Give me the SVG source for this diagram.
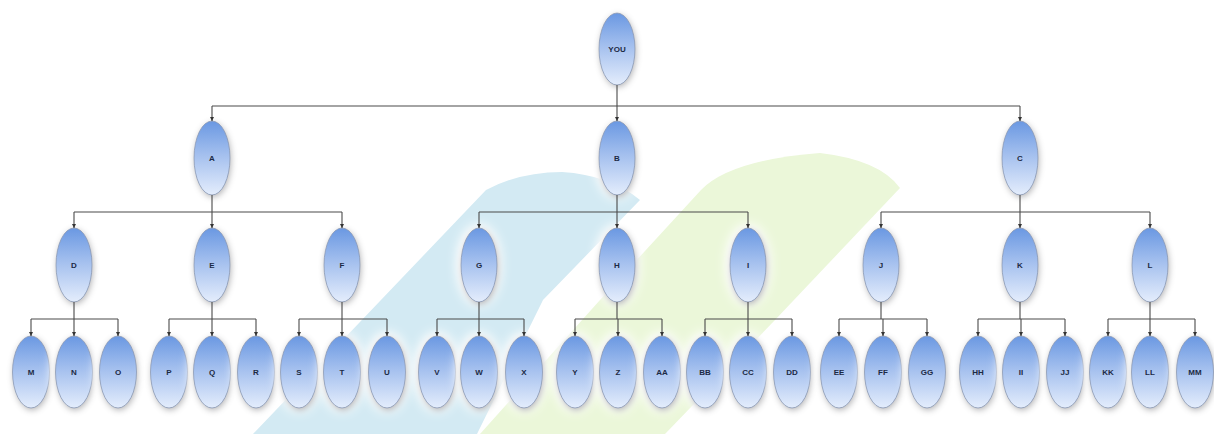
<svg xmlns="http://www.w3.org/2000/svg" width="1214" height="434" viewBox="0 0 1214 434">
<style>
  .nd ellipse { fill: url(#ng); stroke: #8797b4; stroke-width: 0.8; filter: url(#sh); }
  .nd text { font-family: "Liberation Sans", Arial, sans-serif; font-weight: bold; font-size: 8px; fill: #1c2a44; text-anchor: middle; dominant-baseline: central; }
  .cn path { fill: none; stroke: #4a4a4a; stroke-width: 1.1; }
  .cn .ar { marker-end: url(#ah); }
</style>
<defs>
  <linearGradient id="ng" x1="0" y1="0" x2="0" y2="1">
    <stop offset="0" stop-color="#6a98e2"/>
    <stop offset="0.45" stop-color="#a3bfee"/>
    <stop offset="1" stop-color="#e4edfc"/>
  </linearGradient>
  <filter id="sh" x="-80%" y="-40%" width="260%" height="180%">
    <feGaussianBlur in="SourceAlpha" stdDeviation="7" result="b1"/>
    <feComponentTransfer in="b1" result="b1a"><feFuncA type="linear" slope="2.2"/></feComponentTransfer>
    <feFlood flood-color="#ffffff"/>
    <feComposite in2="b1a" operator="in" result="glow"/>
    <feGaussianBlur in="SourceAlpha" stdDeviation="3" result="b2"/>
    <feOffset in="b2" dx="1" dy="1.5" result="o"/>
    <feFlood flood-color="#4a4a55" flood-opacity="0.6"/>
    <feComposite in2="o" operator="in" result="shadow"/>
    <feMerge><feMergeNode in="glow"/><feMergeNode in="shadow"/><feMergeNode in="SourceGraphic"/></feMerge>
  </filter>
  <marker id="ah" viewBox="0 0 6 6" refX="6" refY="3" markerWidth="4" markerHeight="4" orient="auto">
    <path d="M0,0 L6,3 L0,6 z" fill="#333"/>
  </marker>
</defs>
<rect width="1214" height="434" fill="#ffffff"/>
<g id="watermark">
  <path d="M253,434 L486,190 Q520,172 562,172 Q610,175 640,200 L543,300 L477,434 Z" fill="#d3eaf3"/>
  <path d="M480,434 L600,300 L701,190 Q730,160 820,153 Q880,160 900,188 L775,320 L665,434 Z" fill="#ebf7d9"/>
</g>
<g id="nodes">
  <g id="n-YOU" class="nd"><ellipse cx="617" cy="49" rx="18" ry="36"/><text x="617" y="49">YOU</text></g>
  <g id="n-A" class="nd"><ellipse cx="212" cy="158" rx="18" ry="37"/><text x="212" y="158">A</text></g>
  <g id="n-B" class="nd"><ellipse cx="617" cy="158" rx="18" ry="37"/><text x="617" y="158">B</text></g>
  <g id="n-C" class="nd"><ellipse cx="1020" cy="158" rx="18" ry="37"/><text x="1020" y="158">C</text></g>
  <g id="n-D" class="nd"><ellipse cx="74" cy="265" rx="18" ry="37"/><text x="74" y="265">D</text></g>
  <g id="n-E" class="nd"><ellipse cx="212" cy="265" rx="18" ry="37"/><text x="212" y="265">E</text></g>
  <g id="n-F" class="nd"><ellipse cx="342" cy="265" rx="18" ry="37"/><text x="342" y="265">F</text></g>
  <g id="n-G" class="nd"><ellipse cx="479" cy="265" rx="18" ry="37"/><text x="479" y="265">G</text></g>
  <g id="n-H" class="nd"><ellipse cx="617" cy="265" rx="18" ry="37"/><text x="617" y="265">H</text></g>
  <g id="n-I" class="nd"><ellipse cx="748" cy="265" rx="18" ry="37"/><text x="748" y="265">I</text></g>
  <g id="n-J" class="nd"><ellipse cx="881" cy="265" rx="18" ry="37"/><text x="881" y="265">J</text></g>
  <g id="n-K" class="nd"><ellipse cx="1020" cy="265" rx="18" ry="37"/><text x="1020" y="265">K</text></g>
  <g id="n-L" class="nd"><ellipse cx="1150" cy="265" rx="18" ry="37"/><text x="1150" y="265">L</text></g>
  <g id="n-M" class="nd"><ellipse cx="31" cy="372" rx="18.5" ry="36"/><text x="31" y="372">M</text></g>
  <g id="n-N" class="nd"><ellipse cx="74" cy="372" rx="18.5" ry="36"/><text x="74" y="372">N</text></g>
  <g id="n-O" class="nd"><ellipse cx="118" cy="372" rx="18.5" ry="36"/><text x="118" y="372">O</text></g>
  <g id="n-P" class="nd"><ellipse cx="169" cy="372" rx="18.5" ry="36"/><text x="169" y="372">P</text></g>
  <g id="n-Q" class="nd"><ellipse cx="212" cy="372" rx="18.5" ry="36"/><text x="212" y="372">Q</text></g>
  <g id="n-R" class="nd"><ellipse cx="256" cy="372" rx="18.5" ry="36"/><text x="256" y="372">R</text></g>
  <g id="n-S" class="nd"><ellipse cx="299" cy="372" rx="18.5" ry="36"/><text x="299" y="372">S</text></g>
  <g id="n-T" class="nd"><ellipse cx="342" cy="372" rx="18.5" ry="36"/><text x="342" y="372">T</text></g>
  <g id="n-U" class="nd"><ellipse cx="387" cy="372" rx="18.5" ry="36"/><text x="387" y="372">U</text></g>
  <g id="n-V" class="nd"><ellipse cx="437" cy="372" rx="18.5" ry="36"/><text x="437" y="372">V</text></g>
  <g id="n-W" class="nd"><ellipse cx="479" cy="372" rx="18.5" ry="36"/><text x="479" y="372">W</text></g>
  <g id="n-X" class="nd"><ellipse cx="524" cy="372" rx="18.5" ry="36"/><text x="524" y="372">X</text></g>
  <g id="n-Y" class="nd"><ellipse cx="575" cy="372" rx="18.5" ry="36"/><text x="575" y="372">Y</text></g>
  <g id="n-Z" class="nd"><ellipse cx="618" cy="372" rx="18.5" ry="36"/><text x="618" y="372">Z</text></g>
  <g id="n-AA" class="nd"><ellipse cx="662" cy="372" rx="18.5" ry="36"/><text x="662" y="372">AA</text></g>
  <g id="n-BB" class="nd"><ellipse cx="705" cy="372" rx="18.5" ry="36"/><text x="705" y="372">BB</text></g>
  <g id="n-CC" class="nd"><ellipse cx="748" cy="372" rx="18.5" ry="36"/><text x="748" y="372">CC</text></g>
  <g id="n-DD" class="nd"><ellipse cx="792" cy="372" rx="18.5" ry="36"/><text x="792" y="372">DD</text></g>
  <g id="n-EE" class="nd"><ellipse cx="839" cy="372" rx="18.5" ry="36"/><text x="839" y="372">EE</text></g>
  <g id="n-FF" class="nd"><ellipse cx="883" cy="372" rx="18.5" ry="36"/><text x="883" y="372">FF</text></g>
  <g id="n-GG" class="nd"><ellipse cx="927" cy="372" rx="18.5" ry="36"/><text x="927" y="372">GG</text></g>
  <g id="n-HH" class="nd"><ellipse cx="978" cy="372" rx="18.5" ry="36"/><text x="978" y="372">HH</text></g>
  <g id="n-II" class="nd"><ellipse cx="1021" cy="372" rx="18.5" ry="36"/><text x="1021" y="372">II</text></g>
  <g id="n-JJ" class="nd"><ellipse cx="1065" cy="372" rx="18.5" ry="36"/><text x="1065" y="372">JJ</text></g>
  <g id="n-KK" class="nd"><ellipse cx="1108" cy="372" rx="18.5" ry="36"/><text x="1108" y="372">KK</text></g>
  <g id="n-LL" class="nd"><ellipse cx="1150" cy="372" rx="18.5" ry="36"/><text x="1150" y="372">LL</text></g>
  <g id="n-MM" class="nd"><ellipse cx="1195" cy="372" rx="18.5" ry="36"/><text x="1195" y="372">MM</text></g>
</g>
<g id="connectors" class="cn">
  <path d="M617,85 V106 M212,106 H1020"/>
  <path class="ar" d="M212,106 V121"/><path class="ar" d="M617,106 V121"/><path class="ar" d="M1020,106 V121"/>

  <path d="M212,195 V212 M74,212 H342"/>
  <path class="ar" d="M74,212 V228"/><path class="ar" d="M212,212 V228"/><path class="ar" d="M342,212 V228"/>
  <path d="M617,195 V212 M479,212 H748"/>
  <path class="ar" d="M479,212 V228"/><path class="ar" d="M617,212 V228"/><path class="ar" d="M748,212 V228"/>
  <path d="M1020,195 V212 M881,212 H1150"/>
  <path class="ar" d="M881,212 V228"/><path class="ar" d="M1020,212 V228"/><path class="ar" d="M1150,212 V228"/>

  <path d="M74,302 V319 M31,319 H118"/>
  <path class="ar" d="M31,319 V336"/><path class="ar" d="M74,319 V336"/><path class="ar" d="M118,319 V336"/>
  <path d="M212,302 V319 M169,319 H256"/>
  <path class="ar" d="M169,319 V336"/><path class="ar" d="M212,319 V336"/><path class="ar" d="M256,319 V336"/>
  <path d="M342,302 V319 M299,319 H387"/>
  <path class="ar" d="M299,319 V336"/><path class="ar" d="M342,319 V336"/><path class="ar" d="M387,319 V336"/>
  <path d="M479,302 V319 M437,319 H524"/>
  <path class="ar" d="M437,319 V336"/><path class="ar" d="M479,319 V336"/><path class="ar" d="M524,319 V336"/>
  <path d="M617,302 V319 M575,319 H662"/>
  <path class="ar" d="M575,319 V336"/><path class="ar" d="M618,319 V336"/><path class="ar" d="M662,319 V336"/>
  <path d="M748,302 V319 M705,319 H792"/>
  <path class="ar" d="M705,319 V336"/><path class="ar" d="M748,319 V336"/><path class="ar" d="M792,319 V336"/>
  <path d="M881,302 V319 M839,319 H927"/>
  <path class="ar" d="M839,319 V336"/><path class="ar" d="M883,319 V336"/><path class="ar" d="M927,319 V336"/>
  <path d="M1020,302 V319 M978,319 H1065"/>
  <path class="ar" d="M978,319 V336"/><path class="ar" d="M1021,319 V336"/><path class="ar" d="M1065,319 V336"/>
  <path d="M1150,302 V319 M1108,319 H1195"/>
  <path class="ar" d="M1108,319 V336"/><path class="ar" d="M1150,319 V336"/><path class="ar" d="M1195,319 V336"/>
</g>
</svg>
